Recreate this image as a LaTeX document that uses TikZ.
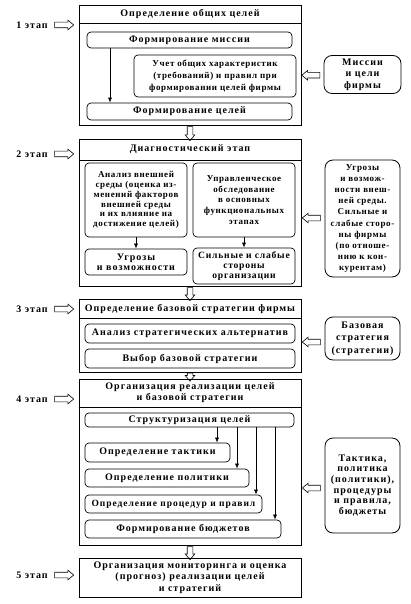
\documentclass[tikz,border=0pt]{standalone}
\usepackage{fontspec}
\setmainfont[LetterSpace=10]{Liberation Serif}
\usetikzlibrary{shapes.arrows,calc,arrows.meta}
\begin{document}
\begin{tikzpicture}[x=1pt,y=-1pt,
  font=\bfseries\fontsize{10}{11}\selectfont,
  stg/.style={draw,line width=0.9pt,rectangle,inner sep=0pt,align=center},
  ibox/.style={draw,line width=0.7pt,rounded corners=4pt,inner sep=0pt,align=center},
  rbox/.style={draw,line width=0.8pt,rounded corners=8pt,inner sep=0pt,align=center},
  hol/.style={single arrow,draw,fill=white,line width=0.6pt,inner xsep=0pt,inner ysep=2.5pt,
    single arrow head extend=2pt,single arrow tip angle=80,anchor=center},
  thinarr/.style={line width=0.6pt,-{Latex[length=5pt,width=4pt]}},
  lbl/.style={inner sep=0pt},
  narrow/.style={font=\bfseries\fontsize{9}{#1}\selectfont\addfontfeatures{LetterSpace=7}},
  med/.style={font=\bfseries\fontsize{10}{#1}\selectfont}]
\useasboundingbox (0,0) rectangle (411,604);

% ---------- Stage 1
\node[stg,minimum width=222pt,minimum height=18pt] (s1h) at (190,14) {Определение общих целей};
\node[stg,minimum width=222pt,minimum height=102pt] (s1b) at (190,74) {};
\node[ibox,minimum width=205pt,minimum height=16pt] (m1) at (189.5,40) {Формирование миссии};
\node[ibox,minimum width=162pt,minimum height=42pt,narrow=12] (u1) at (215,76)
  {Учет общих характеристик\\(требований) и правил при\\формировании целей фирмы};
\node[ibox,minimum width=205pt,minimum height=17pt] (c1) at (189.5,111.5) {Формирование целей};
\node[rbox,minimum width=77pt,minimum height=38pt,med=11.5] (r1) at (362.5,74.5)
  {Миссии\\и цели\\фирмы};
\node[lbl] (l1) at (32,25) {1 этап};
\node[hol,minimum height=19pt] (h1) at (62.5,25) {};
\node[hol,minimum height=18pt,rotate=180] (ra1) at ($(r1.west)!0.5!(u1.east -| s1b.east)$) {};
\coordinate (x1) at (110,0);
\draw[thinarr] (m1.south -| x1) -- (c1.north -| x1);

% ---------- Stage 2
\node[hol,minimum height=14pt,rotate=-90] (v12) at (190,132) {};
\node[stg,minimum width=222pt,minimum height=21pt] (s2h) at (190,149.5) {Диагностический этап};
\node[stg,minimum width=222pt,minimum height=126pt] (s2b) at (190,223) {};
\node[ibox,minimum width=102pt,minimum height=74pt,narrow=9.8] (a1) at (136,200)
  {Анализ внешней\\среды (оценка из-\\менений факторов\\внешней среды\\и их влияние на\\достижение целей)};
\node[ibox,minimum width=102pt,minimum height=74pt,narrow=10.7] (a2) at (244,200)
  {Управленческое\\обследование\\в основных\\функциональных\\этапах};
\node[ibox,minimum width=102pt,minimum height=26pt,med=10] (a3) at (136,262)
  {Угрозы\\и возможности};
\node[ibox,minimum width=102pt,minimum height=36pt,font=\bfseries\fontsize{9.6}{10.3}\selectfont\addfontfeatures{LetterSpace=8}] (a4) at (244,266)
  {Сильные и слабые\\стороны\\организации};
\draw[thinarr] (a1.south) -- (a3.north);
\draw[thinarr] (a2.south) -- (a4.north);
\node[rbox,minimum width=75pt,minimum height=117pt,narrow=11.1] (r2) at (362.5,218.5)
  {Угрозы\\и возмож-\\ности внеш-\\ней среды.\\Сильные и\\слабые сторо-\\ны фирмы\\(по отноше-\\нию к кон-\\курентам)};
\node[lbl] (l2) at (32,154) {2 этап};
\node[hol,minimum height=19pt] (h2) at (62.5,154) {};
\coordinate (y2) at (0,218);
\node[hol,minimum height=18pt,rotate=180] (ra2) at ($(r2.west |- y2)!0.5!(s2b.east |- y2)$) {};

% ---------- Stage 3
\node[hol,minimum height=13pt,rotate=-90] (v23) at (190,292.5) {};
\node[stg,minimum width=222pt,minimum height=19pt] (s3h) at (190,308.5) {Определение базовой стратегии фирмы};
\node[stg,minimum width=222pt,minimum height=54pt] (s3b) at (190,345) {};
\node[ibox,minimum width=210pt,minimum height=19pt] (b1) at (190,333.5) {Анализ стратегических альтернатив};
\node[ibox,minimum width=210pt,minimum height=19pt] (b2) at (190,358.5) {Выбор базовой стратегии};
\node[rbox,minimum width=75pt,minimum height=43pt,med=12.3] (r3) at (362.5,338.5)
  {Базовая\\стратегия\\(стратегии)};
\node[lbl] (l3) at (32,309) {3 этап};
\node[hol,minimum height=19pt] (h3) at (62.5,309) {};
\coordinate (y3) at (0,342);
\node[hol,minimum height=18pt,rotate=180] (ra3) at ($(r3.west |- y3)!0.5!(s3b.east |- y3)$) {};

% ---------- Stage 4
\node[hol,minimum height=8pt,rotate=-90] (v34) at (190,375.5) {};
\node[stg,minimum width=222pt,minimum height=28pt,font=\bfseries\fontsize{10}{11}\selectfont] (s4h) at (190,393)
  {Организация реализации целей\\и базовой стратегии};
\node[stg,minimum width=222pt,minimum height=138pt] (s4b) at (190,476) {};
\draw[line width=1.3pt] (s4h.south west) -- (s4h.south east);
\node[ibox,minimum width=209pt,minimum height=14pt] (d1) at (189.5,420) {Структуризация целей};
\node[ibox,minimum width=145pt,minimum height=19pt] (d2) at (157.5,452.5) {Определение тактики};
\node[ibox,minimum width=164pt,minimum height=18pt] (d3) at (167,478) {Определение политики};
\node[ibox,minimum width=177pt,minimum height=18pt,font=\bfseries\fontsize{9.5}{11}\selectfont] (d4) at (173.5,504) {Определение процедур и правил};
\node[ibox,minimum width=196pt,minimum height=18pt] (d5) at (183,529) {Формирование бюджетов};
\coordinate (x2) at (217,0);
\coordinate (x3) at (237,0);
\coordinate (x4) at (256,0);
\coordinate (x5) at (275,0);
\draw[thinarr] (d1.south -| x2) -- (d2.north -| x2);
\draw[thinarr] (d1.south -| x3) -- (d3.north -| x3);
\draw[thinarr] (d1.south -| x4) -- (d4.north -| x4);
\draw[thinarr] (d1.south -| x5) -- (d5.north -| x5);
\node[rbox,minimum width=75pt,minimum height=95pt,med=10.7] (r4) at (362.5,485.5)
  {Тактика,\\политика\\(политики),\\процедуры\\и правила,\\бюджеты};
\node[lbl] (l4) at (32,399) {4 этап};
\node[hol,minimum height=19pt] (h4) at (62.5,399) {};
\coordinate (y4) at (0,488);
\node[hol,minimum height=18pt,rotate=180] (ra4) at ($(r4.west |- y4)!0.5!(s4b.east |- y4)$) {};

% ---------- Stage 5
\node[hol,minimum height=13pt,rotate=-90] (v45) at (190,551.5) {};
\node[stg,minimum width=222pt,minimum height=39pt,font=\bfseries\fontsize{10}{11.5}\selectfont] (s5) at (190,577.5)
  {Организация мониторинга и оценка\\(прогноз) реализации целей\\и стратегий};
\node[lbl] (l5) at (32,575) {5 этап};
\node[hol,minimum height=19pt] (h5) at (62.5,575) {};
\end{tikzpicture}
\end{document}
